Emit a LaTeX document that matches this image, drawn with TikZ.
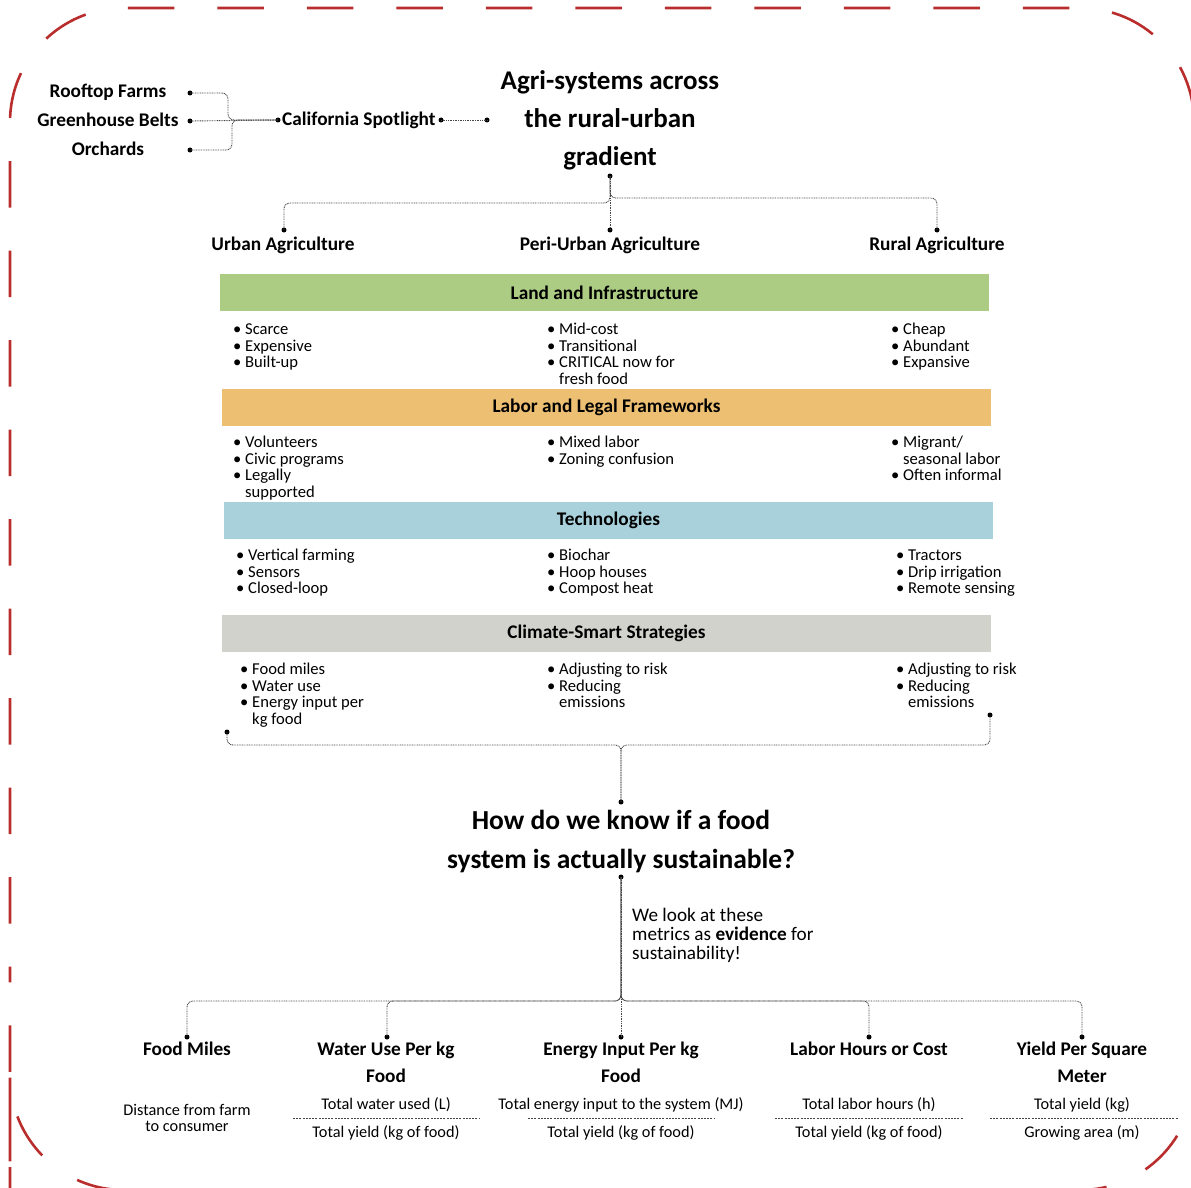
\documentclass[tikz,border=0pt]{standalone}
\usepackage{fontspec}
\setmainfont{Carlito}
\usetikzlibrary{calc}

\definecolor{bred}{RGB}{185,45,45}
\definecolor{lgreen}{RGB}{171,204,130}
\definecolor{lorange}{RGB}{236,191,114}
\definecolor{lblue}{RGB}{168,209,220}
\definecolor{lgray}{RGB}{210,210,204}
\definecolor{conncol}{RGB}{70,70,70}

\newcommand\bu{\makebox[12pt][l]{•}}
\newcommand\ci{\hspace*{12pt}}
\newcommand\tabl[1]{\begin{tabular}[t]{@{}l@{}}#1\end{tabular}}
\newcommand\tabc[1]{\begin{tabular}[t]{@{}c@{}}#1\end{tabular}}

\tikzset{
  border/.style={draw=bred, line width=2.6pt, rounded corners=114pt, dash pattern=on 46.5pt off 43pt, dash phase=32pt},
  conn/.style={draw=conncol, line width=0.9pt, dash pattern=on 0.9pt off 0.8pt, rounded corners=6pt},
  shifted/.style={dash phase=0.85pt},
  pt/.style={circle, fill=black, inner sep=0pt, minimum size=5pt},
  head/.style={font=\fontsize{19.3}{27}\selectfont\bfseries, inner sep=0pt, anchor=base},
  big/.style={font=\fontsize{27}{38}\selectfont\bfseries, inner sep=0pt, anchor=base},
  band/.style={minimum width=769pt, minimum height=37pt, inner sep=0pt, font=\fontsize{19.3}{22}\selectfont\bfseries},
  blist/.style={font=\fontsize{16.6}{16.5}\selectfont, inner sep=0pt, anchor=base west},
  formula/.style={font=\fontsize{16.3}{16}\selectfont, inner sep=0pt, anchor=base},
  fbar/.style={draw=conncol, line width=0.7pt, dash pattern=on 2pt off 1.2pt},
  note/.style={font=\fontsize{19.2}{19}\selectfont, inner sep=0pt, anchor=base west}
}

\begin{document}
\begin{tikzpicture}[x=1pt,y=-1pt]
\useasboundingbox (0,0) rectangle (1191,1188);
\path[border] (10,1095) -- (10,8) -- (1194,8) -- (1194,1190) -- (10,1190) -- cycle;

% ---------- California spotlight ----------
\node[head] (roof) at (108,98) {Rooftop Farms};
\node[head] (green) at (108,127) {Greenhouse Belts};
\node[head] (orch) at (108,155) {Orchards};
\node[pt] (d1) at (190,93) {};
\node[pt] (d2) at (190,121) {};
\node[pt] (d3) at (190,150) {};
\node[pt] (dcs) at (278,120) {};
\node[head, anchor=base west] (cal) at (282,125) {California Spotlight};
\node[pt] (dcs2) at (441,120) {};
\node[pt] (dend) at (487,120) {};
\draw[conn] (d1.center) -- ++(38,0) |- (dcs.center);
\draw[conn, shifted] (d3.center) -- ++(42,0) |- (dcs.center);
\draw[conn] (d2.center) -- (dcs.center);
\draw[conn] (dcs2.center) -- (dend.center);

% ---------- Title ----------
\node[big] (title) at (610,90) {\tabc{Agri-systems across\\the rural-urban\\gradient}};
\node[pt] (dt) at (610,176) {};
\node[pt] (durban) at (284,230) {};
\node[pt] (dperi) at (610,230) {};
\node[pt] (drural) at (937,230) {};
\draw[conn] (dt.center) -- ++(0,27) -| (durban.center);
\draw[conn, shifted] (dt.center) -- ++(0,22) -| (drural.center);
\draw[conn] (dt.center) -- (dperi.center);
\node[head] (urban) at (283,250) {Urban Agriculture};
\node[head] (peri) at (610,250) {Peri-Urban Agriculture};
\node[head] (rural) at (937,250) {Rural Agriculture};

% ---------- Bands ----------
\node[band, fill=lgreen] (land) at (604.5,292.5) {Land and Infrastructure};
\node[band, fill=lorange] (labor) at (606.5,407.5) {Labor and Legal Frameworks};
\node[band, fill=lblue] (tech) at (608.5,520.5) {Technologies};
\node[band, fill=lgray] (clim) at (606.5,633.5) {Climate-Smart Strategies};

% Land
\node[blist] (l1) at (233,334.5) {\tabl{\bu Scarce\\\bu Expensive\\\bu Built-up}};
\node[blist] (l2) at (547,334.5) {\tabl{\bu Mid-cost\\\bu Transitional\\\bu CRITICAL now for\\\ci fresh food}};
\node[blist] (l3) at (891,334.5) {\tabl{\bu Cheap\\\bu Abundant\\\bu Expansive}};
% Labor
\node[blist] (b1) at (233,447.5) {\tabl{\bu Volunteers\\\bu Civic programs\\\bu Legally\\\ci supported}};
\node[blist] (b2) at (547,447.5) {\tabl{\bu Mixed labor\\\bu Zoning confusion}};
\node[blist] (b3) at (891,447.5) {\tabl{\bu Migrant/\\\ci seasonal labor\\\bu Often informal}};
% Tech
\node[blist] (t1) at (236,560.5) {\tabl{\bu Vertical farming\\\bu Sensors\\\bu Closed-loop}};
\node[blist] (t2) at (547,560.5) {\tabl{\bu Biochar\\\bu Hoop houses\\\bu Compost heat}};
\node[blist] (t3) at (896,560.5) {\tabl{\bu Tractors\\\bu Drip irrigation\\\bu Remote sensing}};
% Climate
\node[blist] (c1) at (240,674.5) {\tabl{\bu Food miles\\\bu Water use\\\bu Energy input per\\\ci kg food}};
\node[blist] (c2) at (547,674.5) {\tabl{\bu Adjusting to risk\\\bu Reducing\\\ci emissions}};
\node[blist] (c3) at (896,674.5) {\tabl{\bu Adjusting to risk\\\bu Reducing\\\ci emissions}};

% ---------- Climate bracket ----------
\node[pt] (dl) at (227,732) {};
\node[pt] (dr) at (990,715) {};
\node[pt] (dq) at (621,802) {};
\draw[conn] (dl.center) -- ++(0,13) -| (dq.center);
\draw[conn, shifted] (dr.center) -- ++(0,30) -| (dq.center);

% ---------- Question ----------
\node[big, font=\fontsize{27.5}{39}\selectfont\bfseries] (quest) at (621,829) {\tabc{How do we know if a food\\system is actually sustainable?}};
\node[pt] (dtop) at (621,877) {};
\node[note] (evid) at (632,921) {\tabl{We look at these\\metrics as \textbf{evidence} for\\sustainability!}};

% ---------- Metrics ----------
\node[pt] (dm1) at (187,1037) {};
\node[pt] (dm2) at (387,1037) {};
\node[pt] (dm3) at (621,1037) {};
\node[pt] (dm4) at (869,1037) {};
\node[pt] (dm5) at (1082,1037) {};
\draw[conn] (dtop.center) -- ++(0,124) -| (dm1.center);
\draw[conn, shifted] (dtop.center) -- ++(0,124) -| (dm2.center);
\draw[conn] (dtop.center) -- ++(0,124) -| (dm4.center);
\draw[conn, shifted] (dtop.center) -- ++(0,124) -| (dm5.center);
\draw[conn, dash phase=0.4pt] (dtop.center) -- (dm3.center);

\node[head] (m1) at (187,1055) {Food Miles};
\node[head] (m2) at (386,1055) {\tabc{Water Use Per kg\\Food}};
\node[head] (m3) at (621,1055) {\tabc{Energy Input Per kg\\Food}};
\node[head] (m4) at (869,1055) {Labor Hours or Cost};
\node[head] (m5) at (1082,1055) {\tabc{Yield Per Square\\Meter}};

\node[formula] (f1) at (187,1115) {\tabc{Distance from farm\\to consumer}};
\node[formula] (f2n) at (386,1109) {Total water used (L)};
\node[formula] (f2d) at (386,1137) {Total yield (kg of food)};
\draw[fbar] (293,1118) -- (480,1118);
\node[formula] (f3n) at (621,1109) {Total energy input to the system (MJ)};
\node[formula] (f3d) at (621,1137) {Total yield (kg of food)};
\draw[fbar] (528,1118) -- (715,1118);
\node[formula] (f4n) at (869,1109) {Total labor hours (h)};
\node[formula] (f4d) at (869,1137) {Total yield (kg of food)};
\draw[fbar] (775,1118) -- (963,1118);
\node[formula] (f5n) at (1082,1109) {Total yield (kg)};
\node[formula] (f5d) at (1082,1137) {Growing area (m)};
\draw[fbar] (990,1118) -- (1178,1118);
\end{tikzpicture}
\end{document}
